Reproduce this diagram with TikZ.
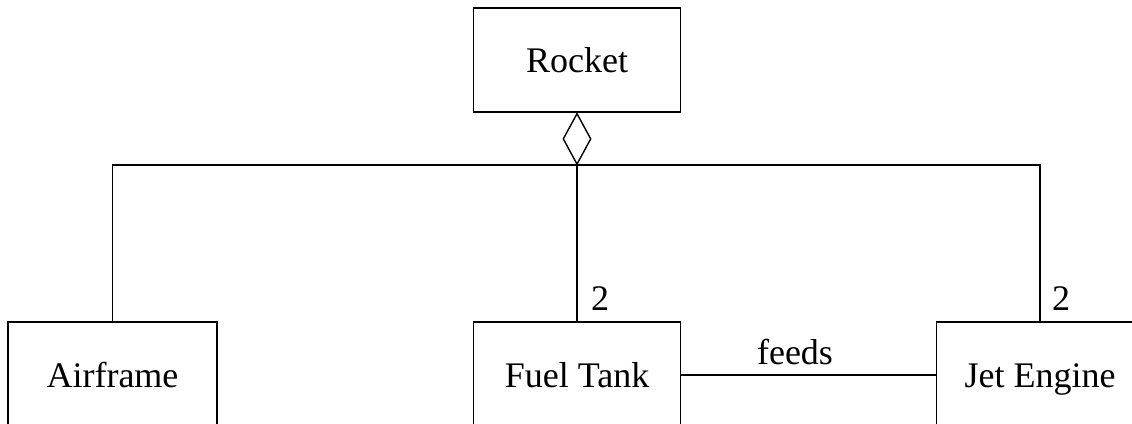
\documentclass[tikz,border=0pt]{standalone}
\usepackage{fontspec}
\setmainfont{Liberation Serif}
\usetikzlibrary{shapes.geometric}
\begin{document}
\begin{tikzpicture}[x=1pt,y=-1pt,
  line width=1.4pt,
  classbox/.style={draw, line width=1.4pt, inner sep=0pt, minimum width=207pt, text height=30pt, text depth=6pt, font=\fontsize{36}{40}\selectfont},
  mult/.style={inner sep=0pt, font=\fontsize{36}{40}\selectfont},
  aggdiamond/.style={draw, diamond, inner sep=0pt, minimum width=28pt, minimum height=51pt, line width=1.4pt}]
\useasboundingbox (0,0) rectangle (1132,423);
\clip (0,0) rectangle (1132,423);
\node[classbox, minimum height=104pt] (rocket) at (577,60) {Rocket};
\node[aggdiamond, anchor=north] (agg) at (rocket.south) {};
\node[classbox, minimum height=106pt, minimum width=209pt] (air) at (112.5,375) {Airframe};
\node[classbox, minimum height=106pt] (fuel) at (577,375) {Fuel Tank};
\node[classbox, minimum height=106pt] (jet) at (1040,375) {Jet Engine};
\draw (agg.south) -- (fuel.north);
\draw (agg.south) -| (air.north);
\draw (agg.south) -| (jet.north);
\draw (fuel.east) -- (jet.west);
\node[mult] (m1) at (600,299) {2};
\node[mult] (m2) at (1061,299) {2};
\node[mult] (feeds) at (795,352) {feeds};
\end{tikzpicture}
\end{document}
